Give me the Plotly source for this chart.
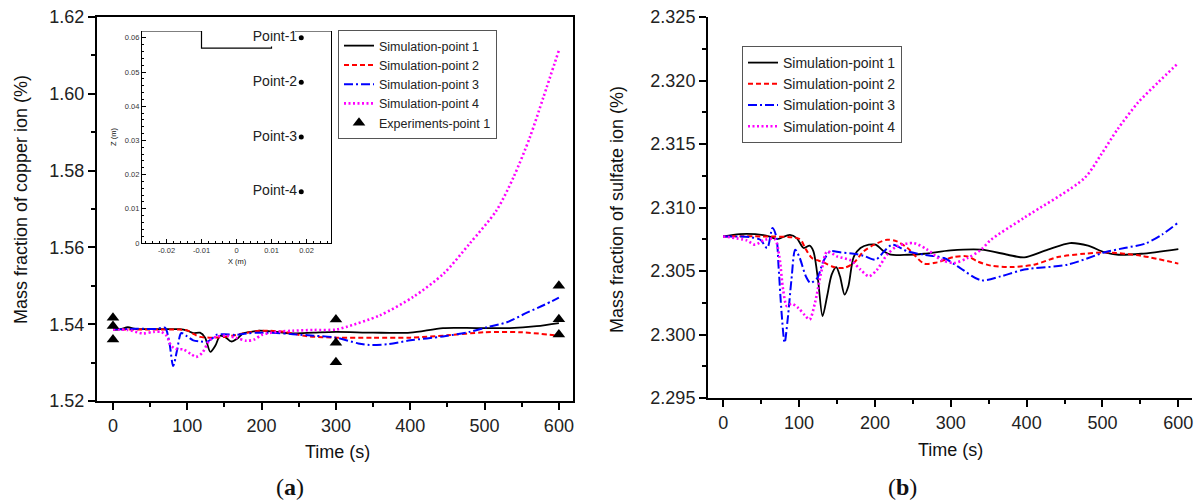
import plotly.graph_objects as go

# ---------------- (a) copper ion ----------------
a_t1 = [0, 10, 20, 30, 50, 70, 90, 100, 108, 117, 124, 131, 138, 144, 152, 159, 167, 175, 185, 197, 220, 242, 270, 300, 350, 400, 444, 489, 534, 570, 600]
a_v1 = [1.5386, 1.5387, 1.5392, 1.5388, 1.5387, 1.5387, 1.5387, 1.5383, 1.5377, 1.5378, 1.5365, 1.5328, 1.5345, 1.5370, 1.5365, 1.5355, 1.5362, 1.5376, 1.5380, 1.5383, 1.5380, 1.5376, 1.5378, 1.5380, 1.5378, 1.5378, 1.5390, 1.5390, 1.5390, 1.5395, 1.5403]

a_t2 = [0, 50, 90, 100, 108, 117, 130, 144, 160, 175, 200, 230, 260, 300, 350, 400, 450, 500, 550, 600]
a_v2 = [1.5386, 1.5386, 1.5386, 1.5384, 1.5375, 1.5367, 1.5365, 1.5366, 1.5370, 1.5376, 1.5383, 1.5380, 1.5369, 1.5365, 1.5365, 1.5365, 1.5371, 1.5379, 1.5379, 1.5370]

a_t3 = [0, 30, 60, 70, 76, 81, 86, 92, 100, 108, 118, 126, 133, 139, 150, 165, 180, 197, 220, 242, 270, 300, 330, 345, 370, 400, 444, 480, 503, 530, 557, 580, 600]
a_v3 = [1.5386, 1.5388, 1.5388, 1.5391, 1.5350, 1.5291, 1.5330, 1.5377, 1.5368, 1.5358, 1.5355, 1.5354, 1.5362, 1.5372, 1.5374, 1.5372, 1.5376, 1.5378, 1.5377, 1.5374, 1.5370, 1.5365, 1.5350, 1.5346, 1.5348, 1.5358, 1.5368, 1.5380, 1.5392, 1.5405, 1.5430, 1.5450, 1.5469]

a_t4 = [0, 20, 40, 55, 65, 72, 78, 84, 95, 105, 112, 120, 130, 140, 153, 165, 180, 190, 200, 220, 242, 270, 300, 314, 359, 404, 445, 480, 516, 539, 561, 579, 600]
a_v4 = [1.5386, 1.5385, 1.5376, 1.5380, 1.5380, 1.5370, 1.5345, 1.5336, 1.5334, 1.5322, 1.5315, 1.5325, 1.5358, 1.5368, 1.5370, 1.5365, 1.5357, 1.5360, 1.5372, 1.5380, 1.5383, 1.5385, 1.5386, 1.5393, 1.5423, 1.5471, 1.5532, 1.5610, 1.5696, 1.5783, 1.5887, 1.5990, 1.6113]

exp_t = [0, 0, 0, 300, 300, 300, 600, 600, 600]
exp_v = [1.5417, 1.5395, 1.5360, 1.5412, 1.5352, 1.5301, 1.5500, 1.5413, 1.5373]

# ---------------- (b) sulfate ion ----------------
b_t1 = [0, 22, 53, 63, 71, 88, 97, 106, 114, 119, 125, 131, 137, 143, 149, 154, 160, 165, 172, 181, 192, 201, 212, 221, 243, 265, 300, 340, 375, 397, 428, 457, 481, 503, 521, 551, 600]
b_v1 = [2.30772, 2.30791, 2.30783, 2.30767, 2.30751, 2.30785, 2.30759, 2.30681, 2.30699, 2.30654, 2.30432, 2.30144, 2.30301, 2.30471, 2.30531, 2.30458, 2.30314, 2.30380, 2.30610, 2.30681, 2.30707, 2.30707, 2.30654, 2.30628, 2.30628, 2.30636, 2.30662, 2.30668, 2.30628, 2.30607, 2.30668, 2.30720, 2.30699, 2.30647, 2.30628, 2.30636, 2.30673]

b_t2 = [0, 50, 101, 108, 117, 126, 132, 146, 159, 172, 185, 199, 216, 229, 243, 265, 282, 304, 322, 335, 353, 379, 410, 441, 476, 503, 551, 600]
b_v2 = [2.30772, 2.30772, 2.30751, 2.30681, 2.30602, 2.30581, 2.30568, 2.30531, 2.30524, 2.30563, 2.30654, 2.30707, 2.30746, 2.30733, 2.30681, 2.30558, 2.30568, 2.30610, 2.30615, 2.30576, 2.30542, 2.30531, 2.30550, 2.30610, 2.30636, 2.30647, 2.30620, 2.30558]

b_t3 = [0, 35, 49, 58, 65, 70, 73, 77, 81, 85, 90, 95, 101, 109, 115, 124, 132, 141, 154, 172, 185, 201, 212, 223, 243, 265, 291, 309, 340, 366, 397, 454, 503, 529, 556, 578, 600]
b_v3 = [2.30772, 2.30767, 2.30746, 2.30681, 2.30838, 2.30772, 2.30537, 2.30170, 2.29935, 2.30118, 2.30432, 2.30668, 2.30602, 2.30458, 2.30406, 2.30445, 2.30576, 2.30654, 2.30647, 2.30636, 2.30620, 2.30589, 2.30654, 2.30707, 2.30654, 2.30628, 2.30602, 2.30537, 2.30427, 2.30458, 2.30511, 2.30550, 2.30647, 2.30681, 2.30715, 2.30785, 2.30882]

b_t4 = [0, 31, 42, 55, 68, 74, 79, 84, 90, 99, 108, 114, 121, 130, 137, 150, 168, 181, 192, 203, 216, 229, 251, 269, 287, 304, 322, 340, 353, 397, 476, 498, 520, 547, 573, 600]
b_v4 = [2.30772, 2.30741, 2.30707, 2.30746, 2.30751, 2.30615, 2.30353, 2.30223, 2.30243, 2.30209, 2.30149, 2.30118, 2.30249, 2.30511, 2.30654, 2.30615, 2.30584, 2.30511, 2.30458, 2.30511, 2.30628, 2.30694, 2.30720, 2.30668, 2.30589, 2.30563, 2.30602, 2.30668, 2.30746, 2.30920, 2.31230, 2.31415, 2.31617, 2.31827, 2.31983, 2.32138]

sim_names = ["Simulation-point 1", "Simulation-point 2", "Simulation-point 3", "Simulation-point 4"]
exp_name = "Experiments-point 1"

# ---------------- inset geometry ----------------
geom_x = [-0.027, -0.010, -0.010, 0.010, 0.010]
geom_z = [0.062, 0.062, 0.057, 0.057, 0.0575]
geom2_x = [0.0167, 0.027]
geom2_z = [0.062, 0.062]
probe_x = [0.0185, 0.0185, 0.0185, 0.0185]
probe_z = [0.060, 0.047, 0.031, 0.015]
probe_labels = ["Point-1", "Point-2", "Point-3", "Point-4"]
inset_xticks = [-0.02, -0.01, 0, 0.01, 0.02]
inset_xticklabels = ["-0.02", "-0.01", "0", "0.01", "0.02"]
inset_zticks = [0, 0.01, 0.02, 0.03, 0.04, 0.05, 0.06]
inset_zticklabels = ["0", "0.01", "0.02", "0.03", "0.04", "0.05", "0.06"]
inset_xminor = [-0.026, -0.024, -0.022, -0.018, -0.016, -0.014, -0.012, -0.008, -0.006, -0.004, -0.002,
                0.002, 0.004, 0.006, 0.008, 0.012, 0.014, 0.016, 0.018, 0.022, 0.024, 0.026]

FONT = "Liberation Sans, Arial, sans-serif"
styles = [
    dict(color="#000000", width=1.8, dash="solid"),
    dict(color="#FF0000", width=2.0, dash="5px,3px"),
    dict(color="#0000FF", width=2.0, dash="9px,3px,2px,3px"),
    dict(color="#FF00FF", width=2.6, dash="2px,2.5px"),
]

fig = go.Figure()

a_series = [(a_t1, a_v1), (a_t2, a_v2), (a_t3, a_v3), (a_t4, a_v4)]
for (t, v), nm, st in zip(a_series, sim_names, styles):
    fig.add_trace(go.Scatter(x=t, y=v, mode="lines", name=nm, line=dict(shape="spline", smoothing=0.8, **st),
                             xaxis="x", yaxis="y", legend="legend"))
fig.add_trace(go.Scatter(x=exp_t, y=exp_v, mode="markers", name=exp_name,
                         marker=dict(symbol="triangle-up", size=11, color="black"),
                         xaxis="x", yaxis="y", legend="legend"))

b_series = [(b_t1, b_v1), (b_t2, b_v2), (b_t3, b_v3), (b_t4, b_v4)]
for (t, v), nm, st in zip(b_series, sim_names, styles):
    fig.add_trace(go.Scatter(x=t, y=v, mode="lines", name=nm, line=dict(shape="spline", smoothing=0.8, **st),
                             xaxis="x2", yaxis="y2", legend="legend2"))

# inset
fig.add_trace(go.Scatter(x=geom_x, y=geom_z, mode="lines", line=dict(color="black", width=1.2),
                         xaxis="x3", yaxis="y3", showlegend=False, hoverinfo="skip", cliponaxis=False))
fig.add_trace(go.Scatter(x=geom2_x, y=geom2_z, mode="lines", line=dict(color="black", width=1.2),
                         xaxis="x3", yaxis="y3", showlegend=False, hoverinfo="skip", cliponaxis=False))
fig.add_trace(go.Scatter(x=probe_x, y=probe_z, mode="markers+text", text=probe_labels,
                         textposition="middle left", textfont=dict(family=FONT, size=14, color="#222"),
                         marker=dict(color="black", size=5),
                         xaxis="x3", yaxis="y3", showlegend=False))

axis_common = dict(showgrid=False, zeroline=False, showline=True, linecolor="black", linewidth=2,
                   ticks="outside", ticklen=7, tickwidth=1.5, tickcolor="black", automargin=False,
                   tickfont=dict(family=FONT, size=18, color="#222"))

fig.update_layout(
    width=1200, height=504, autosize=False,
    margin=dict(l=0, r=0, t=0, b=0, pad=0),
    paper_bgcolor="white", plot_bgcolor="white",
    xaxis=dict(domain=[97/1200, 573/1200], range=[-21.5, 619], dtick=100, tick0=0, anchor="y",
               mirror=True, minor=dict(ticks="outside", ticklen=4, dtick=50, tickcolor="black", tickwidth=1.5),
               **axis_common),
    yaxis=dict(domain=[1-401/504, 1-17/504], range=[1.52, 1.62], dtick=0.02, tick0=1.52, tickformat=".2f",
               anchor="x", mirror=True,
               minor=dict(ticks="outside", ticklen=4, dtick=0.01, tickcolor="black", tickwidth=1.5),
               **axis_common),
    xaxis2=dict(domain=[708/1200, 1192/1200], range=[-20, 618], dtick=100, tick0=0, anchor="y2",
                minor=dict(ticks="outside", ticklen=4, dtick=50, tickcolor="black", tickwidth=1.5),
                **axis_common),
    yaxis2=dict(domain=[1-398/504, 1-17/504], range=[2.295, 2.325], dtick=0.005, tick0=2.295, tickformat=".3f",
                anchor="x2",
                minor=dict(ticks="outside", ticklen=4, dtick=0.0025, tickcolor="black", tickwidth=1.5),
                **axis_common),
    xaxis3=dict(domain=[142/1200, 331/1200], range=[-0.027, 0.027], anchor="y3", automargin=False,
                showgrid=False, zeroline=False, showline=True, linecolor="black", linewidth=1.2,
                ticks="inside", ticklen=4, tickcolor="black", tickwidth=1,
                tickvals=inset_xticks, ticktext=inset_xticklabels,
                minor=dict(ticks="inside", ticklen=2, tickvals=inset_xminor, tickcolor="black"),
                tickfont=dict(family=FONT, size=7.5, color="#333")),
    yaxis3=dict(domain=[1-243/504, 1-31/504], range=[0, 0.062], anchor="x3", automargin=False,
                showgrid=False, zeroline=False, showline=True, linecolor="black", linewidth=1.2, mirror=True,
                ticks="inside", ticklen=4, tickcolor="black", tickwidth=1,
                tickvals=inset_zticks, ticktext=inset_zticklabels,
                minor=dict(ticks="inside", ticklen=2, dtick=0.002, tick0=0, tickcolor="black"),
                tickfont=dict(family=FONT, size=7.5, color="#333")),
    legend=dict(x=338/1200, y=1-30/504, xanchor="left", yanchor="top", bgcolor="white",
                bordercolor="#555", borderwidth=1, tracegroupgap=0,
                font=dict(family=FONT, size=12.5, color="#222")),
    legend2=dict(x=742/1200, y=1-46/504, xanchor="left", yanchor="top", bgcolor="white",
                 bordercolor="#555", borderwidth=1, tracegroupgap=0,
                 font=dict(family=FONT, size=14, color="#222")),
    showlegend=True,
)

ann = [
    dict(text="Mass fraction of copper ion (%)", x=21/1200, y=1-200/504, textangle=-90, size=18, fam=FONT),
    dict(text="Mass fraction of sulfate ion (%)", x=617/1200, y=1-210/504, textangle=-90, size=18, fam=FONT),
    dict(text="Time (s)", x=337/1200, y=1-452/504, textangle=0, size=18, fam=FONT),
    dict(text="Time (s)", x=950/1200, y=1-450/504, textangle=0, size=18, fam=FONT),
    dict(text="(<b>a</b>)", x=290/1200, y=1-487/504, textangle=0, size=24, fam="Liberation Serif, serif"),
    dict(text="(<b>b</b>)", x=902/1200, y=1-487/504, textangle=0, size=24, fam="Liberation Serif, serif"),
    dict(text="Z (m)", x=114/1200, y=1-137/504, textangle=-90, size=7.5, fam=FONT),
    dict(text="X (m)", x=237/1200, y=1-261/504, textangle=0, size=7.5, fam=FONT),
]
for a in ann:
    fig.add_annotation(text=a["text"], x=a["x"], y=a["y"], xref="paper", yref="paper",
                       xanchor="center", yanchor="middle", showarrow=False, textangle=a["textangle"],
                       font=dict(family=a["fam"], size=a["size"], color="#111"))

fig.write_html("out.html", config={"displayModeBar": False},
               post_script="document.body.style.margin='0';document.body.style.overflow='hidden';")
